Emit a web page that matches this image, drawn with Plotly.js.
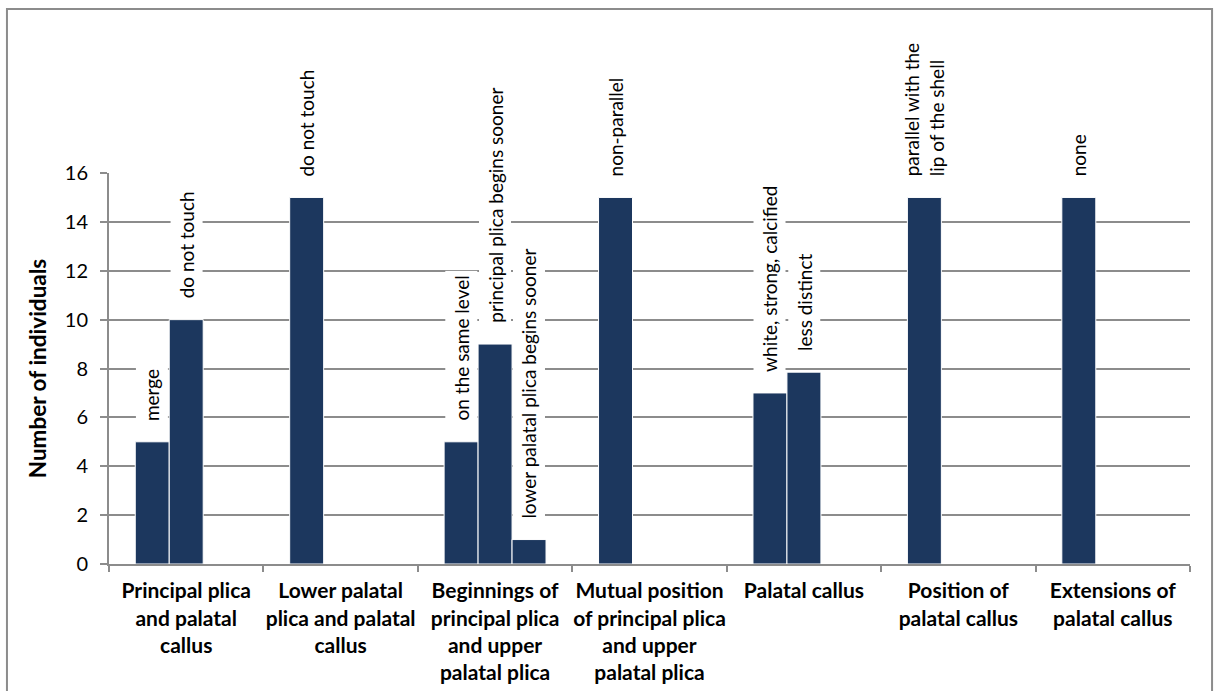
<!DOCTYPE html>
<html>
<head>
<meta charset="utf-8">
<script src="https://cdn.plot.ly/plotly-3.0.1.min.js"></script>
<style>html,body{margin:0;padding:0;background:#fff;}#chart{width:1214px;height:691px;}</style>
</head>
<body>
<div id="chart"></div>
<script>
// ---- data ----
var categories = [
  'Principal plica<br>and palatal<br>callus',
  'Lower palatal<br>plica and palatal<br>callus',
  'Beginnings of<br>principal plica<br>and upper<br>palatal plica',
  'Mutual position<br>of principal plica<br>and upper<br>palatal plica',
  'Palatal callus',
  'Position of<br>palatal callus',
  'Extensions of<br>palatal callus'
];
var series1 = [5, 15, 5, 15, 7, 15, 15];
var series2 = [10, null, 9, null, 7.85, null, null];
var series3 = [null, null, 1, null, null, null, null];
var labels1 = ['merge', 'do not touch', 'on the same level', 'non-parallel', 'white, strong, calcified', 'parallel with the<br>lip of the shell', 'none'];
var labels2 = ['do not touch', '', 'principal plica begins sooner', '', 'less distinct', '', ''];
var labels3 = ['', '', 'lower palatal plica begins sooner', '', '', '', ''];
var yTicks = [0, 2, 4, 6, 8, 10, 12, 14, 16];

// ---- chart ----
var FONT = 'Lato, Carlito, Calibri, sans-serif';
var barColor = '#1c375e';
var gridColor = '#8c8c8c';
var bargap = 0.34;

function barTrace(vals, name) {
  return {
    type: 'bar', x: categories, y: vals, name: name,
    marker: {color: barColor, line: {color: '#ffffff', width: 1}},
    hoverinfo: 'y'
  };
}
var traces = [barTrace(series1, 's1'), barTrace(series2, 's2'), barTrace(series3, 's3')];

var slot = (1 - bargap) / 3;
var annotations = [];
[[series1, labels1], [series2, labels2], [series3, labels3]].forEach(function (pair, si) {
  var vals = pair[0], labs = pair[1];
  labs.forEach(function (t, ci) {
    if (!t || vals[ci] == null) return;
    annotations.push({
      x: ci + (si - 1) * slot, y: vals[ci], xref: 'x', yref: 'y',
      text: t, showarrow: false, textangle: -90,
      xanchor: 'center', yanchor: 'bottom', align: 'left',
      yshift: 16, bgcolor: '#ffffff', borderpad: 4,
      font: {family: FONT, size: 19, color: '#000000'}
    });
  });
});

var layout = {
  width: 1214, height: 691,
  margin: {l: 109, r: 24, t: 173, b: 127},
  paper_bgcolor: '#ffffff', plot_bgcolor: '#ffffff',
  showlegend: false,
  barmode: 'group', bargap: bargap, bargroupgap: 0,
  font: {family: FONT, color: '#000000'},
  xaxis: {
    type: 'category', showgrid: false,
    showline: true, linecolor: gridColor, linewidth: 2,
    ticks: 'outside', tickson: 'boundaries', ticklen: 6, tickcolor: gridColor, tickwidth: 2,
    tickfont: {family: FONT, size: 21, color: '#000000', weight: 'bold'},
    tickangle: 0,
    ticklabelstandoff: 7,
    automargin: false
  },
  yaxis: {
    range: [0, 16], tickvals: yTicks,
    showgrid: true, gridcolor: gridColor, gridwidth: 2,
    showline: true, linecolor: gridColor, linewidth: 2,
    ticks: 'outside', ticklen: 7, tickcolor: gridColor, tickwidth: 2,
    tickfont: {family: FONT, size: 20, color: '#000000'},
    ticklabelstandoff: 8,
    zeroline: false,
    title: {text: 'Number of individuals', font: {family: FONT, size: 22.5, color: '#000000', weight: 'bold'}, standoff: 12},
    automargin: false
  },
  annotations: annotations,
  shapes: [{
    type: 'rect', xref: 'paper', yref: 'paper',
    x0: -0.0944, x1: 1.0204, y0: -0.45, y1: 1.4194,
    line: {color: '#8c8c8c', width: 2}, fillcolor: 'rgba(0,0,0,0)', layer: 'below'
  }]
};

Plotly.newPlot('chart', traces, layout, {displayModeBar: false, staticPlot: true});
</script>
</body>
</html>
